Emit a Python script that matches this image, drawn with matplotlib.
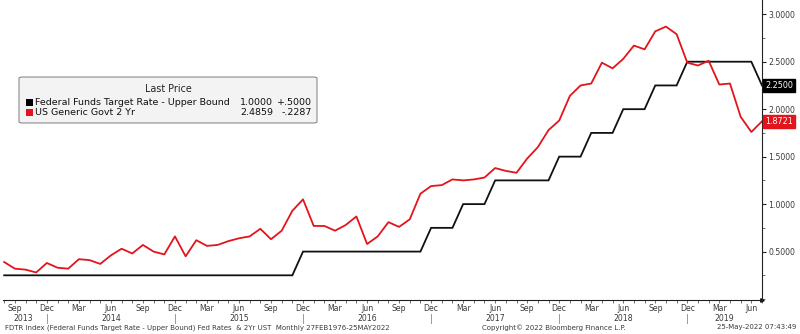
import matplotlib
matplotlib.use("Agg")
import matplotlib.pyplot as plt
from matplotlib.patches import FancyBboxPatch, Rectangle
from matplotlib.lines import Line2D
from matplotlib.ticker import FixedLocator, MultipleLocator

# month-end values, Aug 2013 .. Jul 2019
fed_upper = [
    0.25, 0.25, 0.25, 0.25, 0.25,                                        # 2013 Aug-Dec
    0.25, 0.25, 0.25, 0.25, 0.25, 0.25, 0.25, 0.25, 0.25, 0.25, 0.25, 0.25,  # 2014
    0.25, 0.25, 0.25, 0.25, 0.25, 0.25, 0.25, 0.25, 0.25, 0.25, 0.25, 0.50,  # 2015
    0.50, 0.50, 0.50, 0.50, 0.50, 0.50, 0.50, 0.50, 0.50, 0.50, 0.50, 0.75,  # 2016
    0.75, 0.75, 1.00, 1.00, 1.00, 1.25, 1.25, 1.25, 1.25, 1.25, 1.25, 1.50,  # 2017
    1.50, 1.50, 1.75, 1.75, 1.75, 2.00, 2.00, 2.00, 2.25, 2.25, 2.25, 2.50,  # 2018
    2.50, 2.50, 2.50, 2.50, 2.50, 2.50, 2.25,                              # 2019 Jan-Jul
]
ust_2y = [
    0.39, 0.32, 0.31, 0.28, 0.38,
    0.33, 0.32, 0.42, 0.41, 0.37, 0.46, 0.53, 0.48, 0.57, 0.50, 0.47, 0.66,
    0.45, 0.62, 0.56, 0.57, 0.61, 0.64, 0.66, 0.74, 0.63, 0.72, 0.93, 1.05,
    0.77, 0.77, 0.72, 0.78, 0.87, 0.58, 0.66, 0.81, 0.76, 0.84, 1.11, 1.19,
    1.20, 1.26, 1.25, 1.26, 1.28, 1.38, 1.35, 1.33, 1.48, 1.60, 1.78, 1.88,
    2.14, 2.25, 2.27, 2.49, 2.43, 2.53, 2.67, 2.63, 2.82, 2.87, 2.79, 2.49,
    2.46, 2.51, 2.26, 2.27, 1.92, 1.76, 1.8721,
]
month_names = ["Jan", "Feb", "Mar", "Apr", "May", "Jun",
               "Jul", "Aug", "Sep", "Oct", "Nov", "Dec"]
start_month = 8   # Aug
quarter_months = ["Sep", "Dec", "Mar", "Jun"]
year_labels = ["2013", "2014", "2015", "2016", "2017", "2018", "2019"]
year_label_pos = [1.8, 10, 22, 34, 46, 58, 67.5]

legend_title = "Last Price"
legend_rows = [
    ("Federal Funds Target Rate - Upper Bound", "1.0000", "+.5000", "#000000"),
    ("US Generic Govt 2 Yr", "2.4859", "-.2287", "#e3141b"),
]
footer_left = "FDTR Index (Federal Funds Target Rate - Upper Bound) Fed Rates  & 2Yr UST  Monthly 27FEB1976-25MAY2022"
footer_mid = "Copyright\u00a9 2022 Bloomberg Finance L.P."
footer_right = "25-May-2022 07:43:49"

RED = "#e3141b"
TXT = "#3a3a3a"
W, H = 800, 334

n = len(ust_2y)
idx = list(range(n))
labels = [month_names[(start_month - 1 + i) % 12] for i in idx]

fig = plt.figure(figsize=(8, 3.34), dpi=100)
ax = fig.add_axes([3 / W, 34 / H, 759 / W, 1 - 34 / H])

ax.plot(idx, fed_upper, color="#111111", lw=1.3, solid_joinstyle="miter")
ax.plot(idx, ust_2y, color=RED, lw=1.3)

ax.set_xlim(-0.11, n - 1)
ax.set_ylim(-0.01, 3.15)

for s in ["top", "left"]:
    ax.spines[s].set_visible(False)
for s in ["right", "bottom"]:
    ax.spines[s].set_color("#222222")
    ax.spines[s].set_linewidth(0.8)

# y axis on the right
ax.yaxis.tick_right()
ax.yaxis.set_major_locator(FixedLocator([0.5, 1.0, 1.5, 2.0, 2.5, 3.0]))
ax.yaxis.set_minor_locator(MultipleLocator(0.25))
ax.yaxis.set_major_formatter(plt.FuncFormatter(lambda v, p: f"{v:.4f}"))
ax.tick_params(axis="y", which="major", length=3, width=0.8, pad=1.5,
               labelsize=5.6, labelcolor=TXT, color="#222222")
ax.tick_params(axis="y", which="minor", length=2, width=0.6, color="#555555")

# x axis: month ticks, quarter labels
q_idx = [i for i in idx if labels[i] in quarter_months]
ax.set_xticks(q_idx)
ax.set_xticklabels([labels[i] for i in q_idx])
ax.set_xticks(idx, minor=True)
ax.tick_params(axis="x", which="both", length=2.5, width=0.6, color="#555555",
               pad=0.3, labelsize=5.6, labelcolor=TXT)

# year labels and year separators under Dec
xt = ax.get_xaxis_transform()
for lab, pos in zip(year_labels, year_label_pos):
    ax.text(pos, -0.062, lab, transform=xt,
            ha="center", va="center", fontsize=5.6, color=TXT)
for i in idx:
    if labels[i] == "Dec":
        ax.add_line(Line2D([i, i], [-0.045, -0.076], transform=xt,
                           color="#9a9a9a", lw=0.7, clip_on=False))

# arrow at end of x axis
ax.plot(1, 0, ">", color="#111111", ms=2.5, transform=ax.transAxes, clip_on=False)

# last-value tags on the right axis
for val, col in [(fed_upper[-1], "#000000"), (ust_2y[-1], RED)]:
    ax.text(1.004, val, f"{val:.4f}", transform=ax.get_yaxis_transform(),
            ha="left", va="center", fontsize=5.8, color="white",
            bbox=dict(boxstyle="square,pad=0.28", fc=col, ec=col))

# legend box
bx0, by0, bx1, by1 = 19, 77, 317, 123
fig.patches.append(FancyBboxPatch((bx0 / W, 1 - by1 / H), (bx1 - bx0) / W, (by1 - by0) / H,
                                  boxstyle="round,pad=0,rounding_size=0.004",
                                  transform=fig.transFigure, fc="#f3f3f3", ec="#8c8c8c",
                                  lw=0.8, zorder=5))
fig.text(168 / W, 1 - 89 / H, legend_title, ha="center", va="center",
         fontsize=6.9, color="#222222", zorder=6)
for k, (name, last, chg, col) in enumerate(legend_rows):
    yy = 1 - (102 + 11 * k) / H
    fig.patches.append(Rectangle((26 / W, yy - 3.5 / H), 7 / W, 7 / H,
                                 transform=fig.transFigure, fc=col, ec="none", zorder=6))
    fig.text(35 / W, yy, name, ha="left", va="center", fontsize=6.8, color="#111111", zorder=6)
    fig.text(273 / W, yy, last, ha="right", va="center", fontsize=6.8, color="#111111", zorder=6)
    fig.text(312 / W, yy, chg, ha="right", va="center", fontsize=6.8, color="#111111", zorder=6)

# footer
fy = 1 - 327.5 / H
fig.text(5 / W, fy, footer_left, ha="left", va="center", fontsize=5.0, color=TXT)
fig.text(482 / W, fy, footer_mid, ha="left", va="center", fontsize=5.0, color=TXT)
fig.text(796 / W, fy, footer_right, ha="right", va="center", fontsize=5.0, color=TXT)

fig.savefig("out.png", dpi=100, facecolor="white")
